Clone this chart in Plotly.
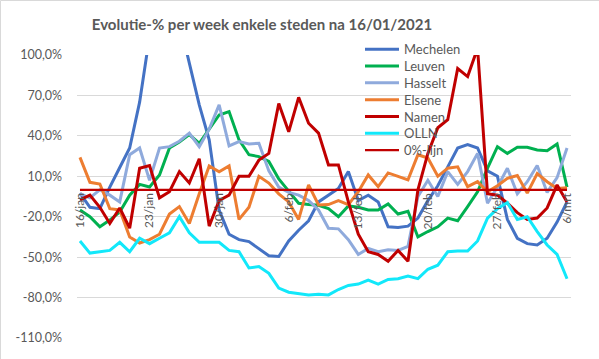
import plotly.graph_objects as go
import pandas as pd

# ---------------- data ----------------
start_date = "2021-01-16"
n_days = 50
dates = pd.date_range(start_date, periods=n_days, freq="D")

mechelen = [-2.5, -13, -14, 2, 16.5, 31, 65, 114, 135, 145,
            125, 94, 63, 37, -15, -33, -37, -38.5, -43.5, -49,
            -49.5, -38, -30, -23, -9, -4, 1, 13.5, -8, -4,
            -9, -27.5, -28, -27, -21, -8, 3, 17, 31, 33.5,
            31, 14, 10, -22, -36, -40, -41, -36, -24, -9]
leuven = [-15, -20, -27.5, -22.5, -16.5, -4, 4, 2, 11, 31,
          35.5, 41, 34.5, 45.5, 55.5, 58, 37, 26, 24.6, 21,
          8, -1, -10, -11, -11.5, -14, -20, -12, -13, -15,
          -15, -10.5, -18, -16, -35, -31, -27.5, -21, -23, -12.5,
          -1.5, 16, 32, 27, 31.5, 31.5, 29.5, 29, 34, 2]
hasselt = [-3, -6, 0, -4, -9, 26, 31, 7, 31, 32,
           36, 42, 32, 45, 63, 32.5, 35.7, 34, 34.5, 14,
           2, -2, -4, -8, -15, -28.6, -29, -37, -48, -43.5,
           -46, -44.5, -45, -42, -5, 7, -5, 13.5, 4, 13.5,
           27, -10, 2, 16, -3, 6, 18, -2, 9, 31]
elsene = [24, 5.5, 4.3, -14, -15, -35, -39.5, -37, -33, -18,
          -12.5, -25, -3, 17.7, 13.4, 17.7, -22, -13, 10, 5,
          -3, -9, -22, 3.6, -11.3, -11, -8, -11, -1.5, 11,
          2.3, 12.5, 10, 7.3, 26, 23.5, 10, 16, 17, 2.3,
          6, -1.5, 3, 8.5, 10.5, -2.5, 12, 6, 1, 1.5]
namen = [-7.5, -4, -13, -25, -13.5, -28.5, 16, 18, -6, -1.5,
         13.5, 5, 23, -27, -8, -4, 10, 10, 22, 27,
         64, 43, 68.6, 49.4, 42, 18.4, 18.4, -9, -33, -46,
         -48, -53, -45, -53, 0, 27, 46, 52, 90, 84,
         105, -3, -4, -10, -17, -22, -21, -13.5, 3.6, -9]
olln = [-38, -47, -46, -45, -39, -46, -36, -40, -36, -32,
        -20, -32, -39, -39, -39, -45, -46, -58, -57, -62,
        -73, -76, -77, -78, -77.5, -78, -74, -71, -70, -67,
        -70, -66.5, -66, -64, -66, -59, -56, -46, -45.5, -45.5,
        -38, -21, -14, -9.5, -22, -20, -31, -41, -48, -66]
zero_line = [0] * n_days

series_names = ["Mechelen", "Leuven", "Hasselt", "Elsene", "Namen", "OLLN", "0%-lijn"]
series_values = [mechelen, leuven, hasselt, elsene, namen, olln, zero_line]
series_colors = ["#4472C4", "#00B050", "#8FAADC", "#ED7D31", "#C00000", "#12E8FA", "#C00000"]
series_widths = [3, 3, 3, 3, 3, 3, 2.25]

x_tick_dates = ["2021-01-16", "2021-01-23", "2021-01-30", "2021-02-06",
                "2021-02-13", "2021-02-20", "2021-02-27", "2021-03-06"]
x_tick_labels = ["16/jan", "23/jan", "30/jan", "6/feb",
                 "13/feb", "20/feb", "27/feb", "6/mrt"]
y_ticks = [-110, -80, -50, -20, 10, 40, 70, 100]
y_tick_labels = ["-110,0%", "-80,0%", "-50,0%", "-20,0%", "10,0%", "40,0%", "70,0%", "100,0%"]
y_min, y_max = -110, 100

title_text = "Evolutie-% per week enkele steden na 16/01/2021"

# ---------------- figure ----------------
W, H = 599, 359
L, R, T, B = 77, 28, 55, 21
PW, PH = W - L - R, H - T - B
FONT = "Lato"
GREY = "#595959"

fig = go.Figure()
legend_layout = {}
for k, (name, vals, col, w) in enumerate(zip(series_names, series_values,
                                              series_colors, series_widths)):
    lg = "legend" if k == 0 else f"legend{k + 1}"
    fig.add_trace(go.Scatter(x=dates, y=vals, name=name, mode="lines",
                             line=dict(color=col, width=w), legend=lg))
    yc = 49.3 + 16.8 * k  # legend entry centre (pixels from top)
    legend_layout[lg] = dict(x=(360 - L) / PW, xanchor="left",
                             y=1 - (yc - T) / PH, yanchor="middle",
                             bgcolor="rgba(0,0,0,0)", borderwidth=0,
                             font=dict(family=FONT, size=13, color=GREY),
                             itemwidth=34)

zero_frac = (0 - y_min) / (y_max - y_min)

fig.update_layout(
    width=W, height=H,
    margin=dict(l=L, r=R, t=T, b=B, pad=0, autoexpand=False),
    paper_bgcolor="white", plot_bgcolor="white",
    font=dict(family=FONT, color=GREY, size=12),
    title=dict(text="<b>" + title_text + "</b>", x=262 / W, xref="container",
               xanchor="center", y=1 - 25 / H, yref="container", yanchor="middle",
               font=dict(family=FONT, size=15, color=GREY)),
    showlegend=True,
    **legend_layout,
)

fig.update_xaxes(
    type="date",
    range=["2021-01-15 16:48", "2021-03-06 09:36"],
    tickvals=x_tick_dates, ticktext=x_tick_labels,
    tickangle=-90, showgrid=False, zeroline=False, showline=False,
    ticks="", anchor="free", position=zero_frac,
    tickfont=dict(family=FONT, size=12, color=GREY),
)
fig.update_yaxes(
    range=[y_min, y_max], tickvals=y_ticks, ticktext=y_tick_labels,
    showgrid=True, gridcolor="#D9D9D9", gridwidth=1, zeroline=False,
    showline=False, ticks="", ticklabelstandoff=14,
    tickfont=dict(family=FONT, size=12.5, color=GREY),
)

# thin chart-area border (left and top edges visible)
fig.add_shape(type="rect", xref="paper", yref="paper",
              x0=(0.5 - L) / PW, x1=1 + (R + 20) / PW,
              y0=-(B + 20) / PH, y1=1 + (T - 0.5) / PH,
              line=dict(color="#D9D9D9", width=1), fillcolor="rgba(0,0,0,0)", layer="below")

fig.write_html("out.html",
               config={"displayModeBar": False},
               post_script="document.body.style.margin='0';document.body.style.overflow='hidden';")
